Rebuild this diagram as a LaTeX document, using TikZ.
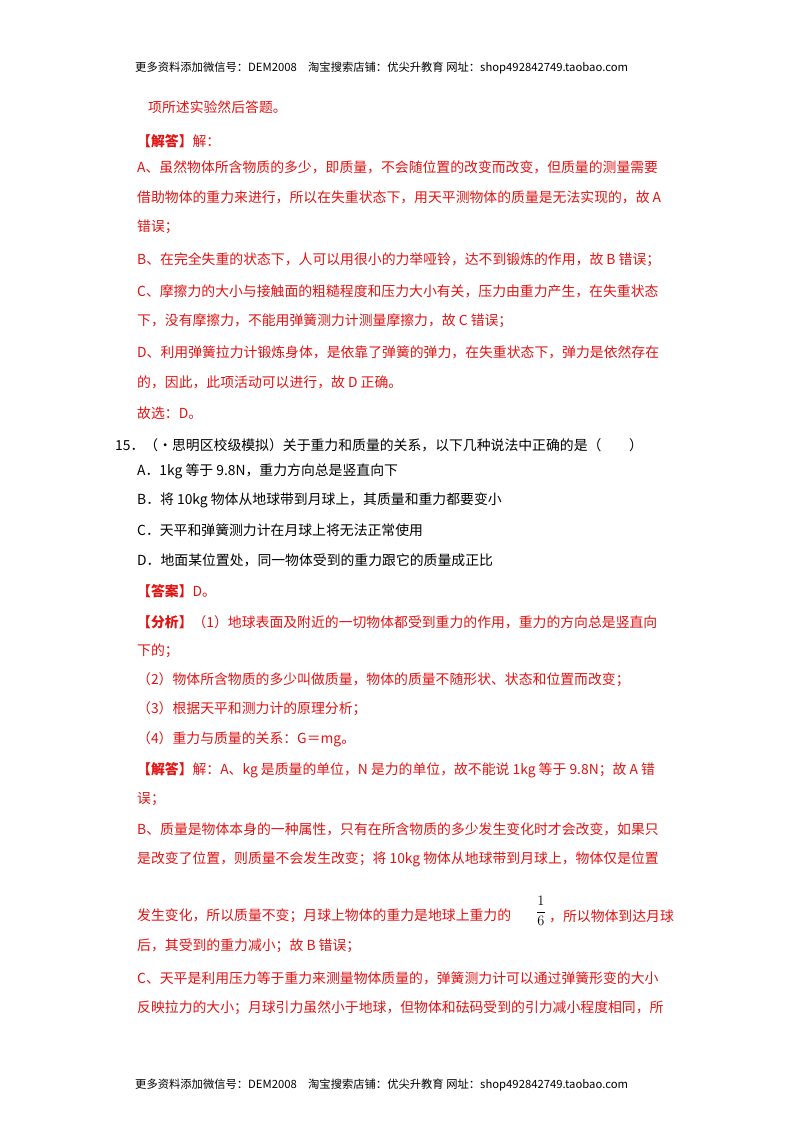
\documentclass[tikz,border=0pt]{standalone}
\usepackage{fontspec}
\setmainfont{Liberation Serif}
\newfontfamily\cjk{Noto Sans CJK SC}
\definecolor{ansred}{RGB}{225,20,20}
\begin{document}
\begin{tikzpicture}[x=1pt,y=-1pt,
 hd/.style={anchor=west,inner sep=0,font=\cjk\fontsize{11.3}{12}\selectfont},
 rl/.style={anchor=west,inner sep=0,text=ansred,font=\cjk\fontsize{13.85}{16}\selectfont},
 bl/.style={anchor=west,inner sep=0,text=black,font=\cjk\fontsize{13.85}{16}\selectfont}]
\fill[white] (0,0) rectangle (800,1132);
\node[hd] (h) at (135,68) {更多资料添加微信号：DEM2008\quad 淘宝搜索店铺：优尖升教育 网址：shop492842749.taobao.com};
\node[rl] (l1) at (148,107) {项所述实验然后答题。};
\node[rl] (l2) at (137,141) {\textbf{【解答】}解：};
\node[rl] (l3) at (137,167) {A、虽然物体所含物质的多少，即质量，不会随位置的改变而改变，但质量的测量需要};
\node[rl] (l4) at (137,197) {借助物体的重力来进行，所以在失重状态下，用天平测物体的质量是无法实现的，故 A};
\node[rl] (l5) at (137,227) {错误；};
\node[rl] (l6) at (137,260) {B、在完全失重的状态下，人可以用很小的力举哑铃，达不到锻炼的作用，故 B 错误；};
\node[rl] (l7) at (137,291) {C、摩擦力的大小与接触面的粗糙程度和压力大小有关，压力由重力产生，在失重状态};
\node[rl] (l8) at (137,321) {下，没有摩擦力，不能用弹簧测力计测量摩擦力，故 C 错误；};
\node[rl] (l9) at (137,352) {D、利用弹簧拉力计锻炼身体，是依靠了弹簧的弹力，在失重状态下，弹力是依然存在};
\node[rl] (l10) at (137,382) {的，因此，此项活动可以进行，故 D 正确。};
\node[rl] (l11) at (137,413) {故选：D。};
\node[bl] (q) at (115,445) {15．（•思明区校级模拟）关于重力和质量的关系，以下几种说法中正确的是（\quad\quad）};
\node[bl] (qa) at (137,471) {A．1kg 等于 9.8N，重力方向总是竖直向下};
\node[bl] (qb) at (137,500) {B．将 10kg 物体从地球带到月球上，其质量和重力都要变小};
\node[bl] (qc) at (137,530) {C．天平和弹簧测力计在月球上将无法正常使用};
\node[bl] (qd) at (137,560) {D．地面某位置处，同一物体受到的重力跟它的质量成正比};
\node[rl] (r1) at (137,591) {\textbf{【答案】}D。};
\node[rl] (r2) at (137,622) {\textbf{【分析】}（1）地球表面及附近的一切物体都受到重力的作用，重力的方向总是竖直向};
\node[rl] (r3) at (137,651) {下的；};
\node[rl] (r4) at (137,680) {（2）物体所含物质的多少叫做质量，物体的质量不随形状、状态和位置而改变；};
\node[rl] (r5) at (137,709) {（3）根据天平和测力计的原理分析；};
\node[rl] (r6) at (137,739) {（4）重力与质量的关系：G＝mg。};
\node[rl] (r7) at (137,770) {\textbf{【解答】}解：A、kg 是质量的单位，N 是力的单位，故不能说 1kg 等于 9.8N；故 A 错};
\node[rl] (r8) at (137,799) {误；};
\node[rl] (r9) at (137,829) {B、质量是物体本身的一种属性，只有在所含物质的多少发生变化时才会改变，如果只};
\node[rl] (r10) at (137,859) {是改变了位置，则质量不会发生改变；将 10kg 物体从地球带到月球上，物体仅是位置};
\node[rl] (r11) at (137,916) {发生变化，所以质量不变；月球上物体的重力是地球上重力的};
\node[anchor=center,inner sep=0,font=\fontsize{15}{15}\selectfont] (fr) at (541,911) {$\displaystyle\frac{1}{6}$};
\node[rl] (r11b) at (549,916) {，所以物体到达月球};
\node[rl] (r12) at (137,946) {后，其受到的重力减小；故 B 错误；};
\node[rl] (r13) at (137,978) {C、天平是利用压力等于重力来测量物体质量的，弹簧测力计可以通过弹簧形变的大小};
\node[rl] (r14) at (137,1008) {反映拉力的大小；月球引力虽然小于地球，但物体和砝码受到的引力减小程度相同，所};
\node[hd] (f) at (135,1085) {更多资料添加微信号：DEM2008\quad 淘宝搜索店铺：优尖升教育 网址：shop492842749.taobao.com};
\end{tikzpicture}
\end{document}
